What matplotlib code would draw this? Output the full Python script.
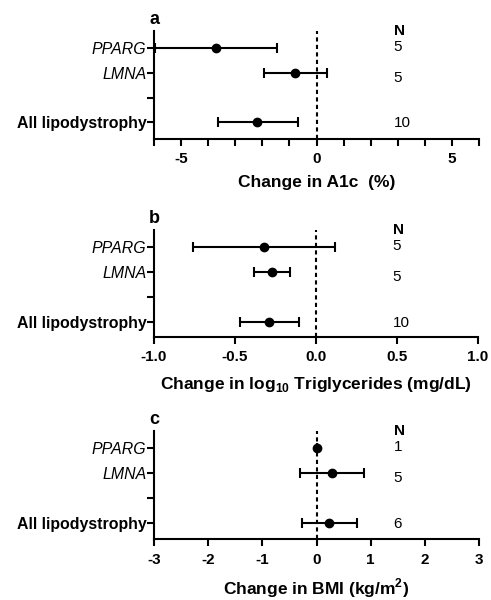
import matplotlib
matplotlib.use("Agg")
import matplotlib.pyplot as plt

plt.rcParams["font.family"] = ["Liberation Sans", "DejaVu Sans"]
plt.rcParams["axes.unicode_minus"] = False
plt.rcParams["mathtext.fontset"] = "custom"
plt.rcParams["mathtext.rm"] = "Liberation Sans:bold"
plt.rcParams["mathtext.bf"] = "Liberation Sans:bold"

ROWS = ["All lipodystrophy", "", "LMNA", "PPARG"]
ROW_Y = [3, 2, 0]  # PPARG, LMNA, All
N_Y = [3.05, 1.8, -0.05]

# per panel: mean change, lower / upper 95% CI (PPARG, LMNA, All)
a1c_mean = [-3.71, -0.79, -2.18]
a1c_lo = [-5.95, -1.94, -3.65]
a1c_hi = [-1.47, 0.37, -0.70]
a1c_n = [5, 5, 10]

tg_mean = [-0.32, -0.27, -0.29]
tg_lo = [-0.76, -0.38, -0.47]
tg_hi = [0.12, -0.16, -0.105]
tg_n = [5, 5, 10]

bmi_mean = [0.0, 0.28, 0.23]
bmi_lo = [0.0, -0.31, -0.265]
bmi_hi = [0.0, 0.875, 0.74]
bmi_n = [1, 5, 6]

panels = [
    ("a", a1c_mean, a1c_lo, a1c_hi, a1c_n, "Change in A1c  (%)",
     (-6, 6), [-5, 0, 5], ["-5", "0", "5"], list(range(-6, 7))),
    ("b", tg_mean, tg_lo, tg_hi, tg_n,
     r"Change in log$_{\mathbf{10}}$ Triglycerides (mg/dL)",
     (-1, 1), [-1, -0.5, 0, 0.5, 1], ["-1.0", "-0.5", "0.0", "0.5", "1.0"], []),
    ("c", bmi_mean, bmi_lo, bmi_hi, bmi_n, r"Change in BMI (kg/m$^{\mathbf{2}}$)",
     (-3, 3), [-3, -2, -1, 0, 1, 2, 3], ["-3", "-2", "-1", "0", "1", "2", "3"], []),
]

# axes boxes in pixels: left, top, right, bottom
boxes = [(154, 30.7, 479, 138.5), (154, 230, 478, 336.5), (154, 430.7, 479, 539)]
ylims = [(-0.66, 3.71), (-0.57, 3.67), (-0.63, 3.7)]
labelpads = [6, 8, 7]
W, H = 491, 600

fig = plt.figure(figsize=(W / 100, H / 100), dpi=100)
for (tag, mean, lo, hi, n, xlab, xlim, ticks, tlabs, minor), box, yl, lp in zip(panels, boxes, ylims, labelpads):
    l, t, r, b = box
    ax = fig.add_axes([l / W, 1 - b / H, (r - l) / W, (b - t) / H])
    ax.axvline(0, color="black", lw=1.5, ls=(0, (2, 1.6)), zorder=1)
    xerr = [[m - x for m, x in zip(mean, lo)], [x - m for m, x in zip(mean, hi)]]
    ax.errorbar(mean, ROW_Y, xerr=xerr, fmt="o", color="black", ms=6, elinewidth=1.5,
                capsize=3.5, capthick=1.5, zorder=3, clip_on=False)
    ax.set_xlim(*xlim)
    ax.set_ylim(*yl)
    ax.set_xticks(ticks)
    ax.set_xticklabels(tlabs, fontsize=11, fontweight="bold")
    if minor:
        ax.set_xticks(minor, minor=True)
    ax.set_yticks([0, 1, 2, 3])
    ylabs = ax.set_yticklabels(ROWS, fontsize=11.4)
    ylabs[0].set_fontweight("bold")
    ylabs[2].set_fontstyle("italic")
    ylabs[3].set_fontstyle("italic")
    for s in ["top", "right"]:
        ax.spines[s].set_visible(False)
    for s in ["left", "bottom"]:
        ax.spines[s].set_linewidth(1.5)
    ax.tick_params(axis="x", which="both", length=5, width=1.5, pad=5)
    ax.tick_params(axis="y", length=5, width=1.5, pad=0.5)
    ax.set_xlabel(xlab, fontsize=12.5, fontweight="bold", labelpad=lp)
    ax.text(0.737, 1.0, "N", transform=ax.transAxes, fontsize=11, fontweight="bold",
            ha="left", va="center")
    for ny, nv in zip(N_Y, n):
        ax.text(0.737, ny, str(nv), transform=ax.get_yaxis_transform(), fontsize=11,
                ha="left", va="center")
    ax.annotate(tag, (0, 1), xycoords="axes fraction", xytext=(0, 5),
                textcoords="offset points", ha="center", va="baseline",
                fontsize=13, fontweight="bold")

fig.savefig("out.png", dpi=100)
